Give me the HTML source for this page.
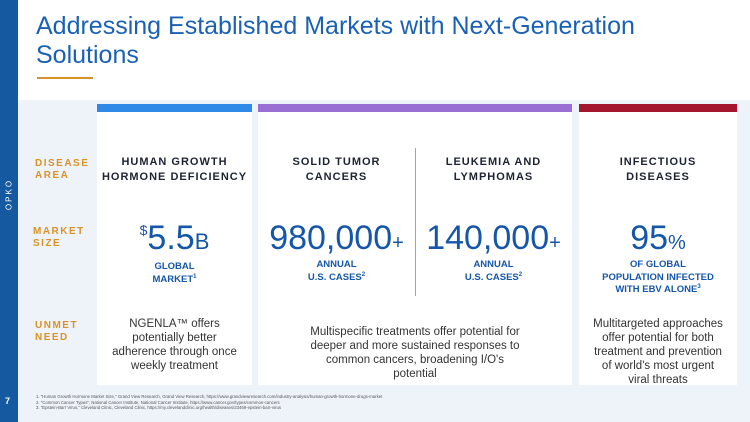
<!DOCTYPE html>
<html><head><meta charset="utf-8"><style>
*{margin:0;padding:0;box-sizing:border-box}
body{width:750px;height:422px;overflow:hidden;position:relative;font-family:"Liberation Sans",sans-serif;background:#eef3f9}
.abs{position:absolute}
.c{text-align:center}
.hd{font-weight:bold;color:#1c2333;font-size:11px;letter-spacing:1px;line-height:15px;white-space:nowrap}
.lab{font-weight:bold;color:#d8922a;font-size:10px;letter-spacing:1.5px;line-height:12px}
.big{color:#1656a8;font-size:34px;line-height:36px}
.sub{color:#1656a8;font-weight:bold;font-size:9.5px;line-height:12.5px}
.sub sup{font-size:6px;line-height:0;vertical-align:4px}
.body{color:#333;font-size:11.5px;line-height:14px}
</style></head><body>
<div class="abs" style="left:0;top:0;width:750px;height:100px;background:#fff"></div>
<div class="abs" style="left:0;top:0;width:18px;height:422px;background:#155aa0"></div>
<div class="abs" style="left:-12px;top:190px;width:42px;color:#fff;font-size:8px;letter-spacing:2px;transform:rotate(-90deg);text-align:center">OPKO</div>
<div class="abs" style="left:5px;top:396px;color:#fff;font-size:9px;font-weight:bold">7</div>
<div class="abs" style="left:36px;top:12px;color:#1a61b5;font-size:25px;line-height:29px">Addressing Established Markets with Next-Generation<br>Solutions</div>
<div class="abs" style="left:37px;top:77px;width:56px;height:2px;background:#d8922a"></div>

<div class="abs" style="left:97px;top:104px;width:155px;height:281px;background:#fff"></div>
<div class="abs" style="left:258px;top:104px;width:314px;height:281px;background:#fff"></div>
<div class="abs" style="left:579px;top:104px;width:158px;height:281px;background:#fff"></div>
<div class="abs" style="left:97px;top:104px;width:155px;height:8px;background:#2e8ae6"></div>
<div class="abs" style="left:258px;top:104px;width:314px;height:8px;background:#9a6fd4"></div>
<div class="abs" style="left:579px;top:104px;width:158px;height:8px;background:#a3162e"></div>
<div class="abs" style="left:415px;top:148px;width:1px;height:148px;background:#8aa8d0"></div>

<div class="abs lab" style="left:35px;top:158px">DISEASE<br>AREA</div>
<div class="abs lab" style="left:33px;top:226px">MARKET<br>SIZE</div>
<div class="abs lab" style="left:35px;top:320px">UNMET<br>NEED</div>

<div class="abs hd c" style="left:97px;top:155px;width:155px">HUMAN GROWTH<br>HORMONE DEFICIENCY</div>
<div class="abs hd c" style="left:258px;top:155px;width:157px">SOLID TUMOR<br>CANCERS</div>
<div class="abs hd c" style="left:415px;top:155px;width:157px">LEUKEMIA AND<br>LYMPHOMAS</div>
<div class="abs hd c" style="left:579px;top:155px;width:158px">INFECTIOUS<br>DISEASES</div>

<div class="abs big c" style="left:97px;top:220px;width:155px;height:36px"><span style="position:relative;top:-14px;font-size:14px;line-height:0">$</span>5.5<span style="font-size:22px;line-height:0">B</span></div>
<div class="abs big c" style="left:258px;top:220px;width:157px">980,000<span style="font-size:20px">+</span></div>
<div class="abs big c" style="left:415px;top:220px;width:157px">140,000<span style="font-size:20px">+</span></div>
<div class="abs big c" style="left:579px;top:220px;width:158px">95<span style="font-size:20px">%</span></div>

<div class="abs sub c" style="left:97px;top:261px;width:155px">GLOBAL<br>MARKET<sup>1</sup></div>
<div class="abs sub c" style="left:258px;top:259px;width:157px">ANNUAL<br>U.S. CASES<sup>2</sup></div>
<div class="abs sub c" style="left:415px;top:259px;width:157px">ANNUAL<br>U.S. CASES<sup>2</sup></div>
<div class="abs sub c" style="left:579px;top:259px;width:158px">OF GLOBAL<br>POPULATION INFECTED<br>WITH EBV ALONE<sup>3</sup></div>

<div class="abs body c" style="left:97px;top:317px;width:155px">NGENLA™ offers<br>potentially better<br>adherence through once<br>weekly treatment</div>
<div class="abs body c" style="left:258px;top:325px;width:314px">Multispecific treatments offer potential for<br>deeper and more sustained responses to<br>common cancers, broadening I/O's<br>potential</div>
<div class="abs body c" style="left:579px;top:317px;width:158px">Multitargeted approaches<br>offer potential for both<br>treatment and prevention<br>of world's most urgent<br>viral threats</div>

<div class="abs" style="left:36px;top:394px;color:#555;font-size:4.3px;line-height:5.5px">1. "Human Growth Hormone Market Size," Grand View Research, Grand View Research, https://www.grandviewresearch.com/industry-analysis/human-growth-hormone-drugs-market<br>2. "Common Cancer Types", National Cancer Institute, National Cancer Institute, https://www.cancer.gov/types/common-cancers<br>3. "Epstein-Barr Virus," Cleveland Clinic, Cleveland Clinic, https://my.clevelandclinic.org/health/diseases/23469-epstein-barr-virus</div>
</body></html>
